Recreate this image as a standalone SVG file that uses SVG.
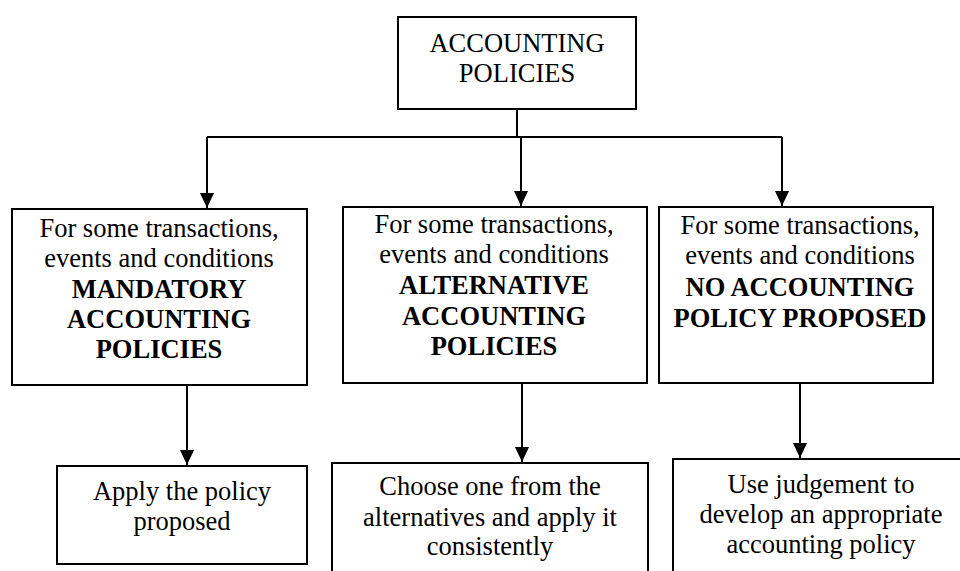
<svg xmlns="http://www.w3.org/2000/svg" width="960" height="571" viewBox="0 0 960 571">
<style>
.box{fill:#fff;stroke:#000;stroke-width:2}
.b{font-weight:bold}
.ln{fill:none;stroke:#000;stroke-width:2}
</style>
<defs>
<marker id="arr" markerUnits="userSpaceOnUse" markerWidth="16" markerHeight="16" viewBox="0 0 16 16" refX="15" refY="8" orient="auto">
<path d="M0,1 L15,8 L0,15 Z" fill="#000"/>
</marker>
</defs>
<rect width="960" height="571" fill="#fff"/>
<g id="connectors">
<path class="ln" d="M517,109 V137"/>
<path class="ln" d="M207,137 H782"/>
<path class="ln" d="M207,137 V208" marker-end="url(#arr)"/>
<path class="ln" d="M521,137 V206" marker-end="url(#arr)"/>
<path class="ln" d="M782,137 V206" marker-end="url(#arr)"/>
<path class="ln" d="M187,385 V465" marker-end="url(#arr)"/>
<path class="ln" d="M522,383 V462" marker-end="url(#arr)"/>
<path class="ln" d="M800,383 V458" marker-end="url(#arr)"/>
</g>
<g font-family="Liberation Serif, Times New Roman, serif" font-size="26.5" text-anchor="middle" fill="#000">
<g id="root">
<rect class="box" x="398" y="17" width="238" height="92"/>
<text x="517" y="52">ACCOUNTING</text>
<text x="517" y="82">POLICIES</text>
</g>
<g id="mandatory">
<rect class="box" x="12" y="209" width="295" height="176"/>
<text x="159" y="237">For some transactions,</text>
<text x="159" y="267">events and conditions</text>
<text class="b" x="159" y="298">MANDATORY</text>
<text class="b" x="159" y="328">ACCOUNTING</text>
<text class="b" x="159" y="358">POLICIES</text>
</g>
<g id="alternative">
<rect class="box" x="343" y="207" width="304" height="176"/>
<text x="494" y="233">For some transactions,</text>
<text x="494" y="263">events and conditions</text>
<text class="b" x="494" y="294">ALTERNATIVE</text>
<text class="b" x="494" y="325">ACCOUNTING</text>
<text class="b" x="494" y="355">POLICIES</text>
</g>
<g id="none">
<rect class="box" x="659" y="207" width="274" height="176"/>
<text x="800" y="234">For some transactions,</text>
<text x="800" y="264">events and conditions</text>
<text class="b" x="800" y="296">NO ACCOUNTING</text>
<text class="b" x="800" y="327">POLICY PROPOSED</text>
</g>
<g id="apply">
<rect class="box" x="57" y="466" width="250" height="98"/>
<text x="182" y="500">Apply the policy</text>
<text x="182" y="530">proposed</text>
</g>
<g id="choose">
<rect class="box" x="332" y="463" width="316" height="130"/>
<text x="490" y="495">Choose one from the</text>
<text x="490" y="526">alternatives and apply it</text>
<text x="490" y="555">consistently</text>
</g>
<g id="judgement">
<rect class="box" x="673" y="459" width="300" height="130"/>
<text x="821" y="493">Use judgement to</text>
<text x="821" y="523">develop an appropriate</text>
<text x="821" y="553">accounting policy</text>
</g>
</g>
</svg>
